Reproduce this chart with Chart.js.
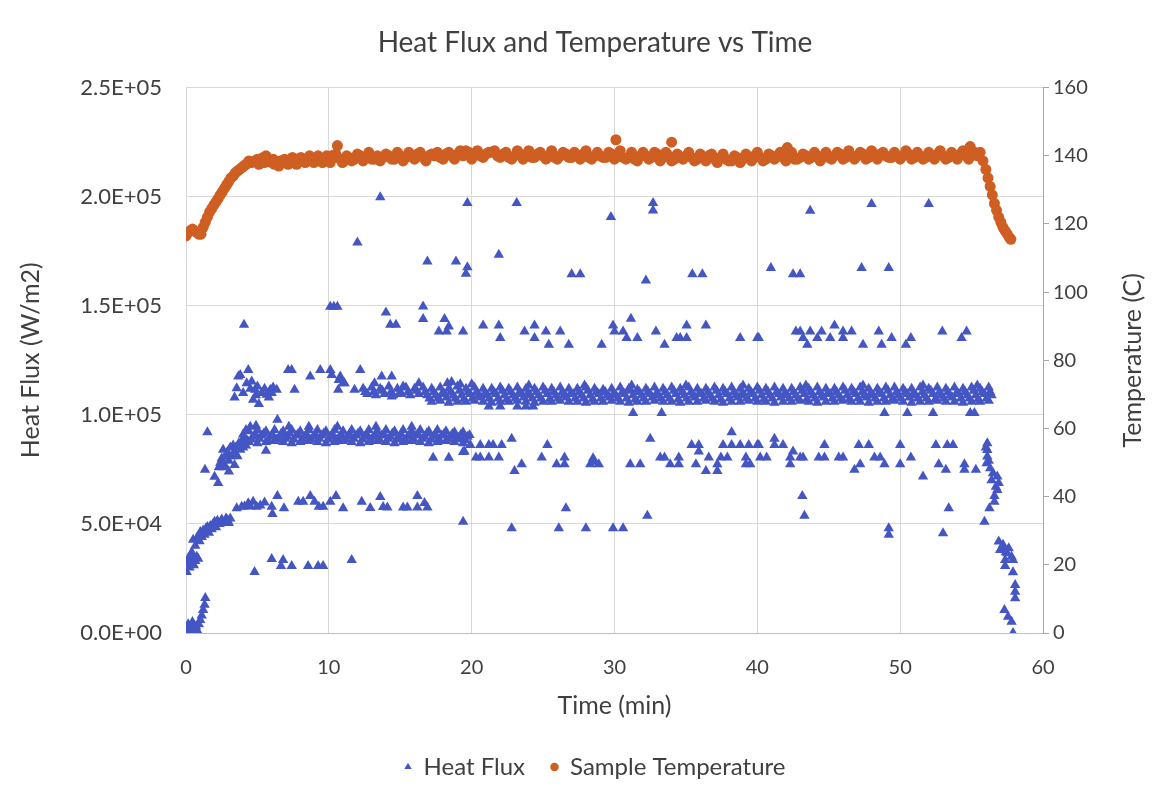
<!DOCTYPE html>
<html lang="en">
<head>
  <meta charset="UTF-8">
  <title>Heat Flux and Temperature vs Time</title>
  <script src="https://cdn.jsdelivr.net/npm/chart.js"></script>
  <style>
    body { margin: 0; background: #fff; }
    #wrap { width: 1160px; height: 797px; }
  </style>
</head>
<body>
  <div id="wrap">
    <canvas id="fluxChart" width="1160" height="797"></canvas>
  </div>

  <script>
    // ---- data ----
    // time (min), temperature (C)
    const tempRamp = [
      [0,116.5],[0.15,117.5],[0.3,118],[0.45,118.5],[0.6,118],[0.75,117.5],[0.9,117],[1.05,117],
      [1.2,119],[1.35,120.5],[1.5,122],[1.65,123.5],[1.8,124.5],[1.95,125.5],[2.1,126.5],[2.25,127.5],
      [2.4,128.5],[2.55,129.5],[2.7,130.5],[2.85,131.5],[3.0,132.5],[3.15,133.5],[3.3,134],[3.45,135],
      [3.6,135.5],[3.75,136],[3.9,136.5],[4.05,137],[4.2,137.5],[4.4,138.5],[4.6,138],[4.8,138.5],
      [5.0,139],[5.2,138.5],[5.4,139.5],[5.6,140],[5.8,138.5],[6.0,138],[6.2,137.5],[6.4,138],
      [6.6,138.5],[6.8,138],[7.0,138.5],[7.3,138],[7.6,138.5],[7.9,139],[8.2,138.5],[8.5,139],
      [8.8,138.5],[9.1,139],[9.4,139],[9.7,138.5],[10.0,139],[10.2,140],[10.4,139.5],[10.8,139],[11.1,138.5],
      [5.1,137.5],[5.5,138],[6.1,139],[6.5,137],[6.9,139],[7.15,137.5],[7.45,139.5],[7.75,137.5],[8.05,139.5],
      [8.35,138],[8.65,140],[8.95,138],[9.25,140],[9.55,138],[9.85,140],[10.1,138],[10.5,140.5],[10.95,138],[11.25,140]
    ];
    const tempPlateau = [
      [11.4,139.5],[11.8,139],[12.2,140],[12.6,139.5],[13.0,139],[13.4,140],[13.8,139.5],[14.2,140],[14.6,139],[15.0,140],
      [15.4,139.5],[15.8,140],[16.2,140.5],[16.6,139.5],[17.0,140],[17.4,140],[17.8,139.5],[18.2,140.5],[18.6,140],[19.0,140.5],
      [19.4,140],[19.8,141],[20.2,140.5],[20.6,140],[21.0,140.5],[21.4,141],[21.8,140],[22.2,140.5],[22.6,139.5],[23.0,140],
      [23.4,140.5],[23.8,140],[24.2,139.5],[24.6,140.5],[25.0,140],[25.4,140],[25.8,139.5],[26.2,140],[26.6,140.5],[27.0,139.5],
      [27.4,140],[27.8,140.5],[28.2,139.5],[28.6,140],[29.0,140],[29.4,139.5],[29.8,140.5],[30.2,140],[30.6,139.5],[31.0,139.5],
      [31.4,139],[31.8,140],[32.2,140],[32.6,139.5],[33.0,140.5],[33.4,139.5],[33.8,140],[34.2,139],[34.6,139.5],[35.0,140],
      [35.4,139.5],[35.8,139],[36.2,139.5],[36.6,140],[37.0,139],[37.4,139.5],[37.8,139],[38.2,138.5],[38.6,139.5],[39.0,139],
      [39.4,139.5],[39.8,140],[40.2,139.5],[40.6,139],[41.0,140],[41.4,140],[41.8,139.5],[42.2,140],[42.6,139],[43.0,139.5],
      [43.4,140],[43.8,139.5],[44.2,140],[44.6,139.5],[45.0,139.5],[45.4,140],[45.8,140.5],[46.2,139.5],[46.6,140],[47.0,140],
      [47.4,140.5],[47.8,139.5],[48.2,140],[48.6,140.5],[49.0,140],[49.4,139.5],[49.8,140],[50.2,140],[50.6,140.5],[51.0,139.5],
      [51.4,140],[51.8,139.5],[52.2,140],[52.6,140.5],[53.0,140],[53.4,139.5],[53.8,140],[54.2,140.5],[54.6,140],[55.0,140.5],[55.4,140]
    ];
    const tempPlateauB = [
      [11.6,138.5],[12.0,140.5],[12.4,138.5],[12.8,141],[13.2,139],[13.6,138.5],[14.0,140.5],[14.4,139],[14.8,141],[15.2,138.5],
      [15.6,141],[16.0,139],[16.4,141],[16.8,138.5],[17.2,140.5],[17.6,141],[18.0,139],[18.4,141],[18.8,139],[19.2,141.5],
      [19.6,141.5],[20.0,139],[20.4,141.5],[20.8,139.5],[21.2,141],[21.6,141.5],[22.0,139.5],[22.4,141],[22.8,139],[23.2,141.5],
      [23.6,139],[24.0,141.5],[24.4,139.5],[24.8,141],[25.2,139],[25.6,141.5],[26.0,139],[26.4,141],[26.8,139.5],[27.2,141],
      [27.6,139],[28.0,141.5],[28.4,139],[28.8,141],[29.2,139.5],[29.6,141],[30.0,139],[30.4,141.5],[30.8,139],[31.2,141],
      [31.6,138.5],[32.0,141],[32.4,139],[32.8,141],[33.2,138.5],[33.6,141],[34.0,138.5],[34.4,140.5],[34.8,139],[35.2,141],
      [35.6,138.5],[36.0,140.5],[36.4,138.5],[36.8,140.5],[37.2,138],[37.6,140.5],[38.0,138.5],[38.4,140],[38.8,138],[39.2,140.5],
      [39.6,138.5],[40.0,141],[40.4,138.5],[40.8,140.5],[41.2,139],[41.6,141],[42.0,138.5],[42.4,141],[42.8,139],[43.2,140.5],
      [43.6,139],[44.0,141],[44.4,138.5],[44.8,141],[45.2,139],[45.6,141],[46.0,139],[46.4,141.5],[46.8,139],[47.2,141],
      [47.6,139],[48.0,141.5],[48.4,139],[48.8,141],[49.2,139.5],[49.6,141],[50.0,139],[50.4,141.5],[50.8,139],[51.2,141],
      [51.6,139],[52.0,141],[52.4,139],[52.8,141.5],[53.2,139],[53.6,141],[54.0,139],[54.4,141.5],[54.8,139],[55.2,141]
    ];
    const tempOutliers = [[10.6,143],[30.1,144.7],[34.0,144],[42.1,142.4],[54.9,142.7]];
    const tempCooling = [
      [55.6,141],[55.8,138.5],[56.0,136],[56.15,133.5],[56.3,131],[56.45,128.5],[56.6,126],[56.75,124],
      [56.9,122],[57.05,120.5],[57.2,119],[57.35,118],[57.5,117],[57.65,116],[57.75,115.5]
    ];

    // time (min), heat flux (kW/m2) -> plotted in W/m2
    const fluxStartup = [
      [0.05,2],[0.15,4],[0.25,1],[0.35,3],[0.45,5],[0.55,2],[0.6,0],[0.7,3],[0.8,1],[0.9,4],[1.0,6],[1.1,8],[1.2,10.5],[1.3,13],[1.35,16],
      [0.05,32],[0.15,34],[0.25,30],[0.35,33],[0.45,35],[0.55,31],[0.65,33],[0.75,35],[0.85,34],[0.05,28],[0.4,37],
      [0.5,42.7],[0.65,40],[0.8,44],[0.95,42],[1.0,46.3],[1.1,44],[1.2,47],[1.3,45],[1.4,48],[1.5,48.6],[1.6,46],[1.7,49],
      [1.8,47.5],[1.9,50],[2.0,51],[2.1,48.5],[2.2,51.5],[2.35,50],[2.5,52],[2.65,50.5],[2.8,52.5],[2.9,51.8],[3.0,50.4],[3.1,52.5],
      [1.5,92],[1.33,74.8],[2.0,71.6],[2.25,68.8]
    ];
    const fluxRise = [
      [2.3,76],[2.4,78],[2.5,80],[2.6,84],[2.7,77],[2.8,81],[2.9,83],[3.0,79],[3.1,85],[3.2,81],[3.3,86],[3.4,83],
      [3.5,85],[3.6,81],[3.7,87],[3.8,84],[3.9,88],[4.0,85],[4.1,89],[4.2,86],[4.3,88],[2.6,76],[3.0,74],[3.4,77],
      [5.6,83.5],[17.3,80.3],[18.4,80.3],[19.4,83]
    ];
    const fluxBand90 = [
      [4.4,87.5],[5.0,87],[5.6,87.5],[6.2,88],[6.8,87.5],[7.4,87],[8.0,87.5],[8.6,88],[9.2,87.5],[9.8,87],[10.4,87.5],[11.0,88],[11.6,87.5],
      [12.2,87],[12.8,87.5],[13.4,88],[14.0,87.5],[14.6,87],[15.2,87.5],[15.8,88],[16.4,87.5],[17.0,87],[17.6,87.5],[18.2,88],[18.8,87.5],[19.4,87],
      [4.55,88.75],[5.15,89],[5.75,88.5],[6.35,88.75],[6.95,89],[7.55,88.75],[8.15,88.5],[8.75,88.75],[9.35,89],[9.95,88.75],[10.55,88.5],[11.15,88.75],[11.75,89],
      [12.35,88.75],[12.95,88.5],[13.55,88.75],[14.15,89],[14.75,88.75],[15.35,88.5],[15.95,88.75],[16.55,89],[17.15,88.75],[17.75,88.5],[18.35,88.75],[18.95,89],[19.55,88.5],
      [4.7,90],[5.3,90.5],[5.9,90],[6.5,89.5],[7.1,90],[7.7,90.5],[8.3,90],[8.9,90],[9.5,90.5],[10.1,90],[10.7,89.5],[11.3,90],[11.9,90.5],
      [12.5,90],[13.1,90],[13.7,90.5],[14.3,90],[14.9,89.5],[15.5,90],[16.1,90.5],[16.7,90],[17.3,90],[17.9,90.5],[18.5,90],[19.1,89.5],[19.7,90],
      [4.85,91.25],[5.45,91.5],[6.05,91],[6.65,91.25],[7.25,91.5],[7.85,91.25],[8.45,91],[9.05,91.25],[9.65,91.5],[10.25,91.25],[10.85,91],[11.45,91.25],[12.05,91.5],
      [12.65,91.25],[13.25,91],[13.85,91.25],[14.45,91.5],[15.05,91.25],[15.65,91],[16.25,91.25],[16.85,91.5],[17.45,91.25],[18.05,91],[18.65,91.25],[19.25,91],[19.85,90.75],
      [4.4,92.5],[5.0,93],[5.6,92.5],[6.2,93],[6.8,92.5],[7.4,93],[8.0,92.5],[8.6,93],[9.2,93],[9.8,92.5],[10.4,93],[11.0,92.5],[11.6,93],
      [12.2,92.5],[12.8,93],[13.4,92.5],[14.0,93],[14.6,92.5],[15.2,93],[15.8,92.5],[16.4,93],[17.0,92.5],[17.6,93],[18.2,92.5],[18.8,92],[19.4,92],
      [6.4,97.7],[4.5,94.5],[4.9,95],[7.2,94.5],[8.6,94.5],[10.6,94.5],[13.3,94.5],[15.8,94.5],[4.0,91],[4.2,93]
    ];
    const fluxBand110 = [
      [17.2,106],[17.8,106.5],[18.4,105.5],[19.0,106],[19.6,106],[20.2,106.5],[20.8,106],[21.4,105.5],[22.0,106],[22.6,106],
      [23.2,106.5],[23.8,106],[24.4,105.5],[25.0,106],[25.6,106],[26.2,106.5],[26.8,106],[27.4,106],[28.0,105.5],[28.6,106],
      [29.2,106],[29.8,106.5],[30.4,106],[31.0,105.5],[31.6,106],[32.2,106],[32.8,106.5],[33.4,106],[34.0,106],[34.6,105.5],
      [35.2,106],[35.8,106],[36.4,106.5],[37.0,106],[37.6,105.5],[38.2,106],[38.8,106],[39.4,106.5],[40.0,106],[40.6,106],
      [41.2,105.5],[41.8,106],[42.4,106],[43.0,106.5],[43.6,106],[44.2,105.5],[44.8,106],[45.4,106],[46.0,106.5],[46.6,106],
      [47.2,106],[47.8,105.5],[48.4,106],[49.0,106],[49.6,106.5],[50.2,106],[50.8,105.5],[51.4,106],[52.0,106],[52.6,106.5],
      [53.2,106],[53.8,106],[54.4,105.5],[55.0,106],[55.6,106],[56.2,106.5],
      [17.05,107.5],[17.65,107.5],[18.25,108],[18.85,107.5],[19.45,107],[20.05,107.5],[20.65,108],[21.25,107.5],[21.85,107.5],[22.45,107],
      [23.05,107.5],[23.65,108],[24.25,107.5],[24.85,107.5],[25.45,107],[26.05,107.5],[26.65,108],[27.25,107.5],[27.85,107.5],[28.45,107],
      [29.05,107.5],[29.65,108],[30.25,107.5],[30.85,107.5],[31.45,107],[32.05,107.5],[32.65,108],[33.25,107.5],[33.85,107.5],[34.45,107],
      [35.05,107.5],[35.65,108],[36.25,107.5],[36.85,107.5],[37.45,107],[38.05,107.5],[38.65,108],[39.25,107.5],[39.85,107.5],[40.45,107],
      [41.05,107.5],[41.65,108],[42.25,107.5],[42.85,107.5],[43.45,107],[44.05,107.5],[44.65,108],[45.25,107.5],[45.85,107.5],[46.45,107],
      [47.05,107.5],[47.65,108],[48.25,107.5],[48.85,107.5],[49.45,107],[50.05,107.5],[50.65,108],[51.25,107.5],[51.85,107.5],[52.45,107],
      [53.05,107.5],[53.65,108],[54.25,107.5],[54.85,107.5],[55.45,107],[56.05,107.5],
      [12.7,109.5],[13.3,109],[13.9,109.5],[14.5,109],[15.1,109.5],[15.7,109],[16.3,109.5],[16.9,109],[17.5,109],[18.1,109.5],
      [18.7,109],[19.3,109],[19.9,109.5],[20.5,109],[21.1,109],[21.7,109.5],[22.3,109],[22.9,109],[23.5,109.5],[24.1,109],
      [24.7,109],[25.3,109.5],[25.9,109],[26.5,109],[27.1,109.5],[27.7,109],[28.3,109],[28.9,109.5],[29.5,109],[30.1,109],
      [30.7,109.5],[31.3,109],[31.9,109],[32.5,109.5],[33.1,109],[33.7,109],[34.3,109.5],[34.9,109],[35.5,109],[36.1,109.5],
      [36.7,109],[37.3,109],[37.9,109.5],[38.5,109],[39.1,109],[39.7,109.5],[40.3,109],[40.9,109],[41.5,109.5],[42.1,109],
      [42.7,109],[43.3,109.5],[43.9,109],[44.5,109],[45.1,109.5],[45.7,109],[46.3,109],[46.9,109.5],[47.5,109],[48.1,109],
      [48.7,109.5],[49.3,109],[49.9,109],[50.5,109.5],[51.1,109],[51.7,109],[52.3,109.5],[52.9,109],[53.5,109],[54.1,109.5],
      [54.7,109],[55.3,109],[55.9,109.5],[56.4,109],
      [12.55,110.5],[13.15,110.5],[13.75,111],[14.35,110.5],[14.95,110],[15.55,110.5],[16.15,111],[16.75,110.5],[17.35,110.5],[17.95,110],
      [18.55,110.5],[19.15,111],[19.75,110.5],[20.35,110.5],[20.95,110],[21.55,110.5],[22.15,111],[22.75,110.5],[23.35,110.5],[23.95,110],
      [24.55,110.5],[25.15,111],[25.75,110.5],[26.35,110.5],[26.95,110],[27.55,110.5],[28.15,111],[28.75,110.5],[29.35,110.5],[29.95,110],
      [30.55,110.5],[31.15,111],[31.75,110.5],[32.35,110.5],[32.95,110],[33.55,110.5],[34.15,111],[34.75,110.5],[35.35,110.5],[35.95,110],
      [36.55,110.5],[37.15,111],[37.75,110.5],[38.35,110.5],[38.95,110],[39.55,110.5],[40.15,111],[40.75,110.5],[41.35,110.5],[41.95,110],
      [42.55,110.5],[43.15,111],[43.75,110.5],[44.35,110.5],[44.95,110],[45.55,110.5],[46.15,111],[46.75,110.5],[47.35,110.5],[47.95,110],
      [48.55,110.5],[49.15,111],[49.75,110.5],[50.35,110.5],[50.95,110],[51.55,110.5],[52.15,111],[52.75,110.5],[53.35,110.5],[53.95,110],
      [54.55,110.5],[55.15,111],[55.75,110.5],[56.3,110.5],
      [12.4,112],[13.0,112.5],[13.6,112],[14.2,113],[14.8,112],[15.4,112.5],[16.0,112],[16.6,112.5],[17.2,112],[17.8,112.5],
      [18.4,112],[19.0,113],[19.6,112],[20.2,112.5],[20.8,112],[21.4,112],[22.0,112.5],[22.6,112],[23.2,112.5],[23.8,112],
      [24.4,112],[25.0,112.5],[25.6,112],[26.2,112.5],[26.8,112],[27.4,112],[28.0,112.5],[28.6,112],[29.2,111.5],[29.8,112],
      [30.4,112.5],[31.0,112],[31.6,111.5],[32.2,112],[32.8,112.5],[33.4,112],[34.0,112.5],[34.6,112],[35.2,112.5],[35.8,112],
      [36.4,112],[37.0,112.5],[37.6,112],[38.2,112.5],[38.8,112],[39.4,112],[40.0,112.5],[40.6,112],[41.2,112.5],[41.8,112],
      [42.4,112],[43.0,112.5],[43.6,112],[44.2,112.5],[44.8,112],[45.4,112],[46.0,112.5],[46.6,112],[47.2,112.5],[47.8,112],
      [48.4,112],[49.0,112.5],[49.6,112.5],[50.2,112],[50.8,112],[51.4,112.5],[52.0,112],[52.6,112.5],[53.2,112],[53.8,112.5],
      [54.4,112],[55.0,112.5],[55.6,112],[56.2,112.5],
      [19.2,114],[20.0,114],[24.0,113.5],[27.9,113.5],[31.2,113.5],[35.0,113.5],[39.0,113.5],[43.4,113.5],[47.4,113.5],[51.6,113.5],[55.4,113.5]
    ];
    const fluxUpper = [
      [3.4,108],[3.55,112.2],[3.66,117.6],[3.8,118.3],[4.0,110],[4.25,114.5],[4.36,120.6],[4.5,112],[4.6,115.3],[4.7,106.9],
      [4.83,111.5],[4.9,109],[5.0,113],[5.1,105],[5.3,110],[5.5,112],[5.65,109.2],[5.8,108],[5.9,111.5],[6.0,110],
      [6.1,112.5],[6.35,111.5],[7.15,120.6],[7.4,120.6],[7.6,111.5],[8.7,117.6],[9.4,120.6],[10.1,120.6],[10.2,118.3],[10.66,111.5],
      [10.7,116],[10.8,117.6],[11.0,114.5],[11.1,114.5],[11.8,111.5],[12.2,120.6],[13.2,114.5],[13.7,117.6],[14.4,117.6],[14.4,108.4],
      [15.2,113],[16.3,114.5],[18.3,114.5],[18.6,115]
    ];
    const fluxDip = [
      [21.2,103.8],[22.0,103.8],[23.2,103.8],[23.8,103.8],[24.3,103.8],[31.3,100.8],[33.3,100.8],
      [48.9,100.8],[50.5,100.8],[52.3,100.8],[54.9,100.8],[55.2,100.8]
    ];
    const fluxHigh = [
      [13.6,199.7],[12.0,179],[16.9,170.3],[18.9,170.3],[19.7,167.7],[19.6,164.7],[19.7,197.1],[21.9,173.4],[23.15,197.1],
      [27.0,164.5],[27.6,164.5],[29.75,190.7],[32.7,197.1],[32.7,193.7],[32.2,161.6],[35.45,164.5],[36.15,164.5],[40.95,167.3],
      [42.5,164.5],[43.0,164.5],[43.7,193.6],[47.3,167.3],[48.0,196.6],[49.2,167.3],[52.0,196.6],
      [4.06,141.3],[10.1,149.5],[10.35,149.5],[10.6,149.5],[14.0,146.9],[14.3,141.3],[14.7,141.3],[16.6,149.7],[16.6,143.9],
      [17.7,138.2],[18.1,143.9],[18.4,140.5],[18.25,138.2],[19.4,138.2],[20.8,141],[21.9,141],[22.0,135.2],[23.7,138.2],
      [24.4,141],[24.4,135.2],[25.2,138.2],[25.4,132.1],[26.2,138.2],[26.8,132.1],[29.1,132.1],[29.9,141],[30.0,138.2],
      [30.6,138.2],[30.85,135.2],[31.15,144],[31.6,135.2],[32.9,138.2],[33.5,132.1],[34.35,135.2],[34.6,135.2],[35.05,141],
      [35.05,135.2],[36.4,141],[38.8,135.2],[40.0,135.2],[40.1,135.2],[42.7,138.2],[43.0,138.2],[43.2,135.2],[43.5,132.1],
      [43.7,138.2],[44.2,135.2],[44.5,138.2],[45.1,135.2],[45.4,141],[46.0,135.2],[46.0,138.2],[46.6,138.2],[47.4,132.1],
      [48.5,138.2],[48.7,132.1],[49.4,135.2],[50.4,132.1],[50.75,135.2],[52.95,138.2],[54.3,135.2],[54.65,138.2]
    ];
    const fluxMid80 = [
      [19.4,88.8],[19.5,83.2],[19.9,86.2],[20.3,80.4],[20.6,80.4],[21.2,80.4],[20.6,86.2],[21.2,86.2],[21.5,86.2],[22.1,86.2],
      [21.9,80.4],[22.8,89],[23.0,74.3],[23.5,77.4],[24.9,80.4],[25.3,86.2],[25.95,77.4],[26.5,77.4],[26.5,80.4],[28.5,80.1],
      [28.3,77.4],[28.9,77.4],[28.6,78.5],[31.1,77.4],[31.8,77.4],[32.5,89],[33.2,80.4],[33.5,80.4],[33.9,77.4],[34.5,77.4],
      [34.5,80.4],[35.4,86.2],[35.9,86.2],[35.9,83.2],[35.7,77.4],[36.4,74.3],[36.6,80.4],[37.2,77.4],[37.2,74.3],[37.45,80.4],
      [37.9,80.4],[38.2,92],[37.6,86.2],[38.2,86.2],[38.8,86.2],[39.4,86.2],[40.0,86.2],[39.2,80.4],[39.2,77.4],[39.5,77.4],
      [40.1,86.2],[40.2,80.4],[40.65,80.4],[41.2,89],[41.2,86.2],[41.8,86.2],[42.3,80.4],[42.3,77.4],[42.5,83.2],[43.0,80.4],
      [43.2,80.4],[44.3,80.4],[44.7,80.4],[44.7,86.2],[45.7,80.4],[46.0,80.4],[46.8,74.8],[47.2,77.4],[47.1,86.2],[47.8,86.2],
      [48.2,80.4],[48.6,80.4],[48.9,77.4],[50.0,86.2],[50.0,77.4],[50.75,80.4],[51.6,71.7],[52.5,86.2],[52.7,77.4],[53.2,74.8],
      [53.3,86.2],[53.7,86.2],[54.5,77.4],[54.5,74.8],[55.3,74.8]
    ];
    const fluxLow = [
      [3.55,57.2],[3.9,57.9],[4.1,58],[4.36,59.5],[4.5,58],[4.7,60.2],[4.95,57.9],[5.2,58.5],[5.5,59.8],[6.0,57.9],[6.05,54.6],
      [6.4,62.8],[6.86,57.2],[7.86,60.2],[8.2,60.2],[8.7,62.8],[9.0,60.2],[9.3,57.9],[9.6,57.9],[10.1,60.2],[10.5,62.8],
      [11.0,57.2],[12.3,60.2],[12.9,57.3],[13.6,62.3],[13.8,57.8],[14.1,57.5],[15.2,57.5],[15.5,57.5],[16.2,57.5],[16.2,62.8],
      [16.7,59.6],[16.9,57.5],
      [4.8,28],[6.0,33.9],[6.65,30.7],[6.8,33.5],[7.4,30.7],[8.55,30.7],[9.25,30.7],[9.6,30.7],[11.6,33.5],
      [22.8,48],[26.1,48],[28.0,48],[29.9,48],[30.6,48],[19.4,51],[32.3,53.8],[26.6,57.2],[43.15,62.8],[43.3,53.8],
      [49.2,48],[49.2,45],[53.0,45.7],[53.4,57.2],[55.9,51]
    ];
    const fluxCooldown = [
      [56.0,85],[56.1,87],[56.1,83.9],[56.1,80.9],[56.2,79],[56.05,77.8],[56.3,75.5],[56.5,73.2],[56.4,70],[56.8,71.7],
      [56.9,68.7],[56.7,67],[56.8,65.6],[56.6,62.8],[56.6,60.2],[56.25,57.2],
      [56.9,41.9],[57.1,39],[57.2,40.4],[57.6,38.8],[57.0,38.1],[57.4,37],[57.5,36.6],[57.8,35],[57.35,33.5],[57.9,33.5],
      [57.35,30.7],[57.9,27.8],[58.05,22],[58.05,18.9],[58.05,15.9],[57.3,10.5],[57.55,7.5],[57.8,5.2],[57.9,0]
    ];

    const xTicks = [0, 10, 20, 30, 40, 50, 60];
    const fluxTicks = [0, 50000, 100000, 150000, 200000, 250000];
    const tempTicks = [0, 20, 40, 60, 80, 100, 120, 140, 160];

    // ---- build chart ----
    const FONT = 'Lato';
    const TEXT = '#404040';
    const PLOT = { left: 186, right: 1043, top: 88, bottom: 633 };
    const PAD_LEFT = 30;

    const heatFlux = [].concat(fluxStartup, fluxRise, fluxBand90, fluxBand110, fluxUpper,
      fluxDip, fluxHigh, fluxMid80, fluxLow, fluxCooldown)
      .map(p => ({ x: p[0], y: p[1] * 1000 }));
    const sampleTemp = [].concat(tempRamp, tempPlateau, tempPlateauB, tempOutliers, tempCooling)
      .map(p => ({ x: p[0], y: p[1] }));

    function sci(v) {
      const parts = v.toExponential(1).split('e');
      const n = Number(parts[1]);
      return parts[0] + 'E' + (n < 0 ? '-' : '+') + String(Math.abs(n)).padStart(2, '0');
    }

    // both value-axis titles read bottom-to-top, drawn here
    const sideTitles = {
      id: 'sideTitles',
      afterDraw(chart) {
        const ctx = chart.ctx;
        const a = chart.chartArea;
        const midY = (a.top + a.bottom) / 2;
        ctx.save();
        ctx.font = '25px ' + FONT;
        ctx.fillStyle = TEXT;
        ctx.textAlign = 'center';
        ctx.textBaseline = 'middle';
        [[31, 'Heat Flux (W/m2)'], [1133, 'Temperature (C)']].forEach(t => {
          ctx.save();
          ctx.translate(t[0], midY);
          ctx.rotate(-Math.PI / 2);
          ctx.fillText(t[1], 0, 0);
          ctx.restore();
        });
        ctx.restore();
      }
    };

    let ctx = document.getElementById('fluxChart').getContext('2d');
    let chart = new Chart(ctx, {
      type: 'scatter',
      data: {
        datasets: [{
          label: 'Heat Flux',
          data: heatFlux,
          yAxisID: 'y',
          pointStyle: 'triangle',
          pointRadius: 6,
          pointBorderWidth: 0,
          backgroundColor: '#4455c4',
          borderColor: '#4455c4'
        }, {
          label: 'Sample Temperature',
          data: sampleTemp,
          yAxisID: 'y1',
          pointStyle: 'circle',
          pointRadius: 5.5,
          pointBorderWidth: 0,
          backgroundColor: '#cf5e22',
          borderColor: '#cf5e22'
        }]
      },
      options: {
        responsive: false,
        animation: false,
        events: [],
        layout: { padding: { left: PAD_LEFT, right: 0, top: 0, bottom: 8 } },
        plugins: {
          title: {
            display: true,
            text: 'Heat Flux and Temperature vs Time',
            color: TEXT,
            font: { family: FONT, size: 28, weight: 'normal' },
            padding: { top: 26, bottom: 28 }
          },
          legend: {
            position: 'bottom',
            labels: {
              usePointStyle: true,
              boxWidth: 7,
              boxHeight: 6,
              padding: 26,
              color: TEXT,
              font: { family: FONT, size: 24 }
            }
          },
          tooltip: { enabled: false }
        },
        scales: {
          x: {
            type: 'linear',
            min: 0,
            max: 60,
            afterBuildTicks: s => { s.ticks = xTicks.map(v => ({ value: v })); },
            afterFit: s => { s.height = s.chart.height - 8 - s.chart.legend.height - PLOT.bottom; },
            grid: { color: '#d9d9d9', drawTicks: false },
            border: { color: '#bfbfbf' },
            ticks: { color: TEXT, padding: 23, font: { family: FONT, size: 20 } },
            title: {
              display: true,
              text: 'Time (min)',
              color: TEXT,
              font: { family: FONT, size: 25 },
              padding: { top: 0, bottom: 8 }
            }
          },
          y: {
            position: 'left',
            min: 0,
            max: 250000,
            afterBuildTicks: s => { s.ticks = fluxTicks.map(v => ({ value: v })); },
            afterFit: s => { s.width = PLOT.left - PAD_LEFT; },
            grid: { color: '#d9d9d9', drawTicks: false },
            border: { color: '#d9d9d9' },
            ticks: { color: TEXT, padding: 24, font: { family: FONT, size: 22 }, callback: v => sci(v) }
          },
          y1: {
            position: 'right',
            min: 0,
            max: 160,
            afterBuildTicks: s => { s.ticks = tempTicks.map(v => ({ value: v })); },
            afterFit: s => { s.width = 1160 - PLOT.right; },
            grid: { drawOnChartArea: false, drawTicks: true, tickLength: 6, color: '#a6a6b0' },
            border: { color: '#a6a6b0' },
            ticks: { color: TEXT, padding: 4, font: { family: FONT, size: 20 } }
          }
        }
      },
      plugins: [sideTitles]
    });
  </script>
</body>
</html>
